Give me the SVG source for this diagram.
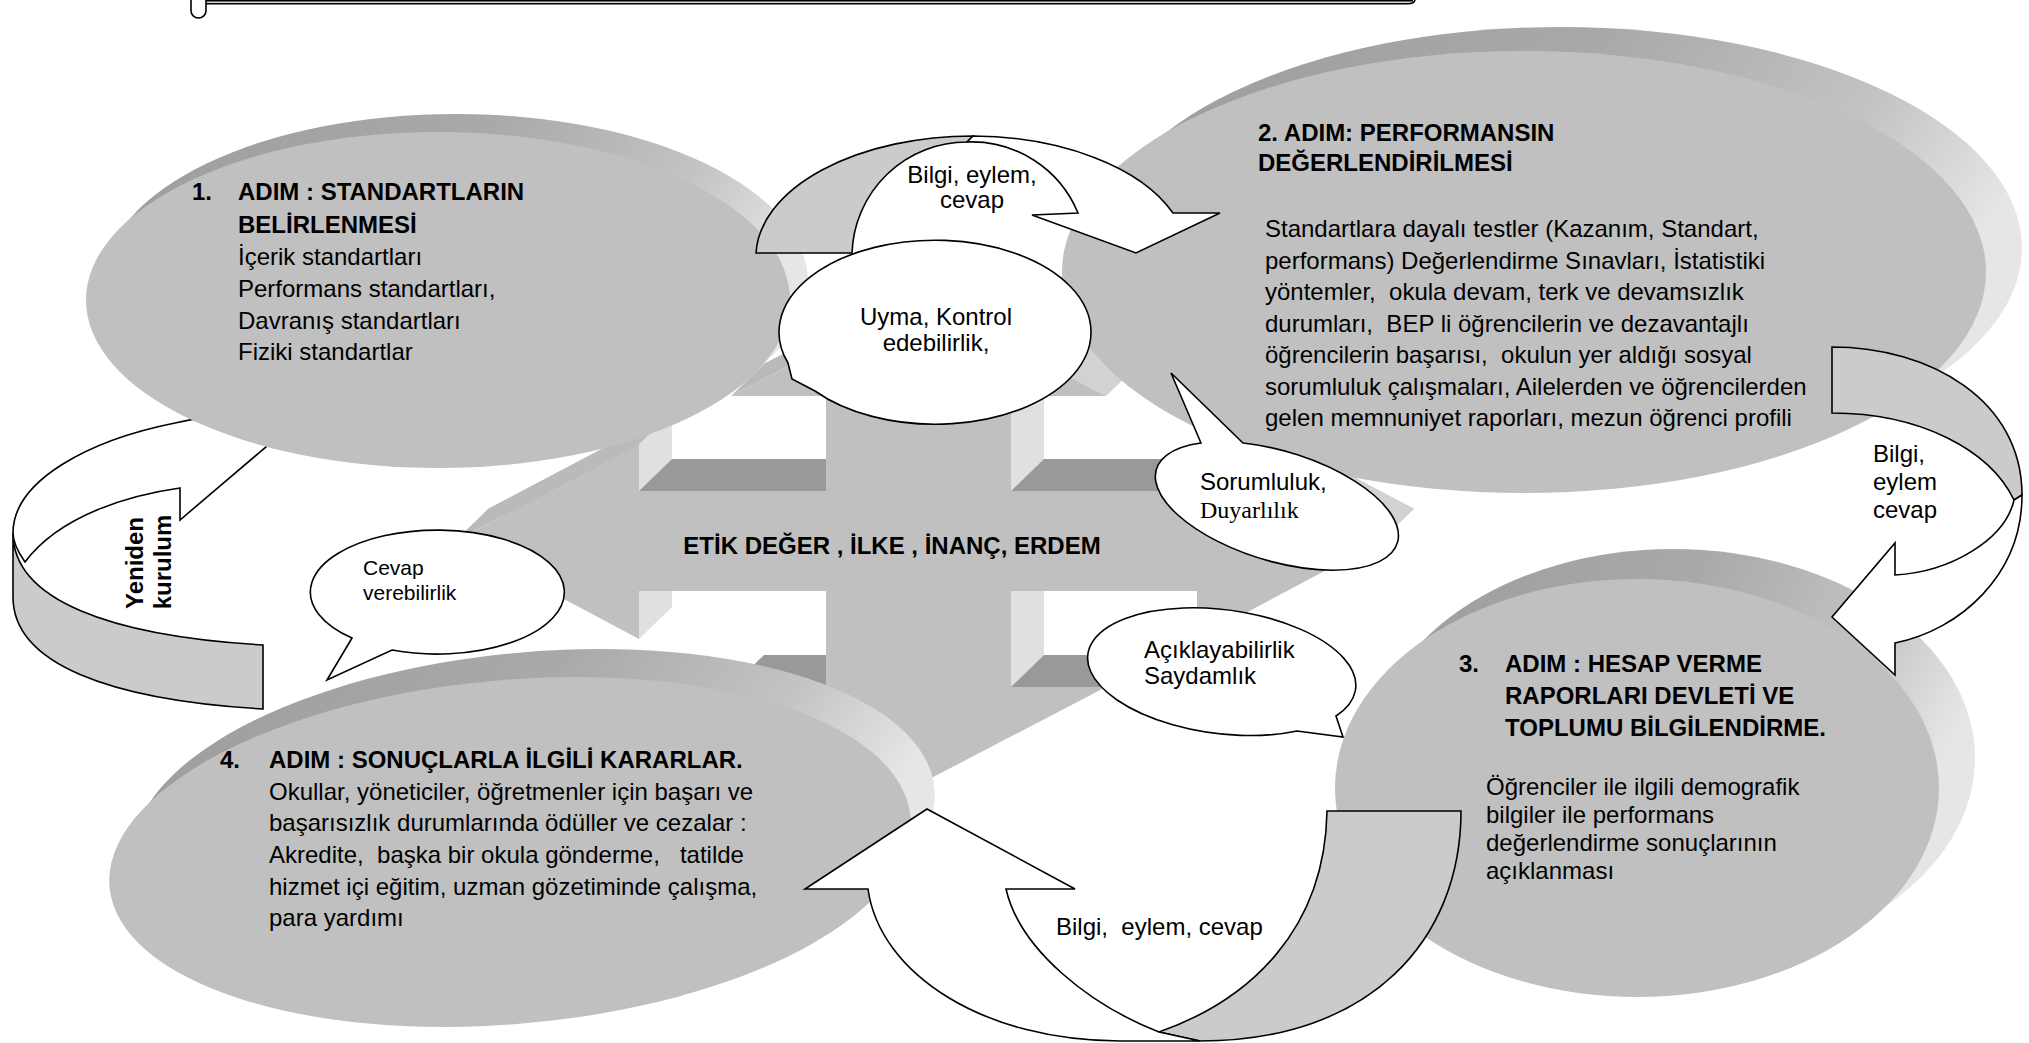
<svg xmlns="http://www.w3.org/2000/svg" width="2029" height="1043" viewBox="0 0 2029 1043">
  <defs>
    <linearGradient id="rimShade" x1="0" y1="0" x2="1" y2="0.35">
      <stop offset="0" stop-color="#9c9c9c"/>
      <stop offset="0.5" stop-color="#a9a9a9"/>
      <stop offset="0.8" stop-color="#c3c3c3"/>
      <stop offset="1" stop-color="#e6e6e6"/>
    </linearGradient>
    <style>
      .face { fill: #c0c0c0; }
      .rim { fill: url(#rimShade); }
      .ln { stroke: #000; stroke-width: 1.6; stroke-linejoin: miter; }
      .bub { fill: #fff; stroke: #000; stroke-width: 1.6; }
      .side { fill: #cbcbcb; }
      .top { fill: #fff; }
      text { font-family: "Liberation Sans", Arial, sans-serif; font-size: 24px; fill: #000; white-space: pre; }
      .b { font-weight: bold; }
      .serif { font-family: "Liberation Serif", "Times New Roman", serif; }
      .mid { text-anchor: middle; }
    </style>
  </defs>

  <rect width="2029" height="1043" fill="#fff"/>

  <!-- scroll banner running off the top edge -->
  <g id="banner">
    <rect x="205" y="0" width="1208" height="3.6" fill="#d9d9d9"/>
    <path class="ln" d="M205,0.8 H1413" fill="none"/>
    <path class="ln" d="M205,3.8 H1408 Q1414,3.8 1415,0" fill="none"/>
    <path class="ln" d="M191,0 V11 A7.5,7 0 0 0 206,11 V0" fill="#fff"/>
  </g>

  <!-- four-way extruded arrow carrying the core values -->
  <g id="ethics-cross">
    <polygon transform="translate(33,-32)" fill="#a4a4a4" points="918,298 1106,396 1011,396 1011,491 1197,491 1197,444 1381,541 1197,639 1197,591 1011,591 1011,687 1106,687 918,785 731,687 826,687 826,591 639,591 639,639 455,541 639,444 639,491 826,491 826,396 731,396"/>
    <polygon fill="#bababa" points="731,396 918,298 951,266 764,364"/>
    <polygon fill="#bababa" points="455,541 639,444 672,412 488,509"/>
    <polygon fill="#999" points="639,491 826,491 859,459 672,459"/>
    <polygon fill="#999" points="1011,491 1197,491 1230,459 1044,459"/>
    <polygon fill="#999" points="731,687 826,687 859,655 764,655"/>
    <polygon fill="#999" points="1011,687 1106,687 1139,655 1044,655"/>
    <polygon fill="#e0e0e0" points="1011,396 1011,491 1044,459 1044,364"/>
    <polygon fill="#e0e0e0" points="1011,591 1011,687 1044,655 1044,559"/>
    <polygon fill="#e0e0e0" points="639,444 639,491 672,459 672,412"/>
    <polygon fill="#e0e0e0" points="639,591 639,639 672,607 672,559"/>
    <polygon fill="#d2d2d2" points="918,298 1106,396 1139,364 951,266"/>
    <polygon fill="#d2d2d2" points="1197,444 1381,541 1414,509 1230,412"/>
    <polygon fill="#c0c0c0" points="918,298 1106,396 1011,396 1011,491 1197,491 1197,444 1381,541 1197,639 1197,591 1011,591 1011,687 1106,687 918,785 731,687 826,687 826,591 639,591 639,639 455,541 639,444 639,491 826,491 826,396 731,396"/>
    <text class="b mid" x="892" y="554">ETİK DEĞER , İLKE , İNANÇ, ERDEM</text>
  </g>

  <!-- ring arrow that runs under the step discs -->
  <g id="connectors-under">
    <g id="arrow-rebuild">
      <path class="side ln" d="M13,533 C13,600 110,636 263,645 L263,709 C110,700 13,664 13,597 Z"/>
      <path class="top ln" d="M13,533 C13,480 90,440 175,423 C215,414 250,412 280,410 L300,418 L180,520 L180,488 C130,495 60,515 25,562 C18,552 13,543 13,533 Z"/>
      <text class="b mid" transform="translate(143,563) rotate(-90)">Yeniden</text>
      <text class="b mid" transform="translate(171,562) rotate(-90)">kurulum</text>
    </g>
  </g>

  <g id="step1">
    <ellipse class="rim" cx="456" cy="282" rx="352" ry="168"/>
    <ellipse class="face" cx="438" cy="300" rx="352" ry="168"/>
    <text class="b" x="192" y="200">1.</text>
    <text class="b" x="238" y="200">ADIM : STANDARTLARIN</text>
    <text class="b" x="238" y="233">BELİRLENMESİ</text>
    <text x="238" y="265">İçerik standartları</text>
    <text x="238" y="297">Performans standartları,</text>
    <text x="238" y="329">Davranış standartları</text>
    <text x="238" y="360">Fiziki standartlar</text>
  </g>

  <g id="step2">
    <ellipse class="rim" cx="1560" cy="248" rx="462" ry="221"/>
    <ellipse class="face" cx="1524" cy="272" rx="462" ry="221"/>
    <text class="b" x="1258" y="141">2. ADIM: PERFORMANSIN</text>
    <text class="b" x="1258" y="171">DEĞERLENDİRİLMESİ</text>
    <text x="1265" y="237">Standartlara dayalı testler (Kazanım, Standart,</text>
    <text x="1265" y="269">performans) Değerlendirme Sınavları, İstatistiki</text>
    <text x="1265" y="300">yöntemler,  okula devam, terk ve devamsızlık</text>
    <text x="1265" y="332">durumları,  BEP li öğrencilerin ve dezavantajlı</text>
    <text x="1265" y="363">öğrencilerin başarısı,  okulun yer aldığı sosyal</text>
    <text x="1265" y="395">sorumluluk çalışmaları, Ailelerden ve öğrencilerden</text>
    <text x="1265" y="426">gelen memnuniyet raporları, mezun öğrenci profili</text>
  </g>

  <g id="step3">
    <ellipse class="rim" cx="1673" cy="758" rx="302" ry="209"/>
    <ellipse class="face" cx="1637" cy="788" rx="302" ry="209"/>
    <text class="b" x="1459" y="672">3.</text>
    <text class="b" x="1505" y="672">ADIM : HESAP VERME</text>
    <text class="b" x="1505" y="704">RAPORLARI DEVLETİ VE</text>
    <text class="b" x="1505" y="736">TOPLUMU BİLGİLENDİRME.</text>
    <text x="1486" y="795">Öğrenciler ile ilgili demografik</text>
    <text x="1486" y="823">bilgiler ile performans</text>
    <text x="1486" y="851">değerlendirme sonuçlarının</text>
    <text x="1486" y="879">açıklanması</text>
  </g>

  <g id="step4">
    <ellipse class="rim" cx="534" cy="824" rx="402" ry="172" transform="rotate(-5 534 824)"/>
    <ellipse class="face" cx="510" cy="852" rx="402" ry="172" transform="rotate(-5 510 852)"/>
    <text class="b" x="220" y="768">4.</text>
    <text class="b" x="269" y="768">ADIM : SONUÇLARLA İLGİLİ KARARLAR.</text>
    <text x="269" y="800">Okullar, yöneticiler, öğretmenler için başarı ve</text>
    <text x="269" y="831">başarısızlık durumlarında ödüller ve cezalar :</text>
    <text x="269" y="863">Akredite,  başka bir okula gönderme,   tatilde</text>
    <text x="269" y="895">hizmet içi eğitim, uzman gözetiminde çalışma,</text>
    <text x="269" y="926">para yardımı</text>
  </g>

  <!-- cycle arrows between the steps -->
  <g id="connectors">
    <g id="arrow-1-2">
      <path class="side ln" d="M756,253 A217,121 0 0 1 973,136 L967,142 A115,115 0 0 0 852,253 Z"/>
      <path class="top ln" d="M973,136 A217,121 0 0 1 1173,213 L1220,213 L1136,253 L1032,215 L1078,213 A115,115 0 0 0 967,142 Z"/>
      <text class="mid" x="972" y="183">Bilgi, eylem,</text>
      <text class="mid" x="972" y="208">cevap</text>
    </g>
    <g id="arrow-2-3">
      <path class="side ln" d="M1832,347 C1930,347 2022,400 2022,495 L2014,500 C1990,450 1920,413 1832,413 Z"/>
      <path class="top ln" d="M2022,495 C2022,575 1960,630 1895,643 L1895,675 L1832,617 L1895,543 L1895,575 C1950,572 2005,540 2014,500 Z"/>
      <text x="1873" y="462">Bilgi,</text>
      <text x="1873" y="490">eylem</text>
      <text x="1873" y="518">cevap</text>
    </g>
    <g id="arrow-3-4">
      <path class="side ln" d="M1327,811 L1461,811 C1461,940 1370,1041 1200,1041 L1159,1032 C1250,1000 1325,930 1327,811 Z"/>
      <path class="top ln" d="M868,889 C880,975 985,1041 1120,1041 L1200,1041 L1159,1032 C1090,1005 1020,950 1006,889 L1075,889 L927,809 L805,889 Z"/>
      <text x="1056" y="935">Bilgi,  eylem, cevap</text>
    </g>
  </g>

  <!-- callouts naming the accountability qualities -->
  <g id="bubble-control">
    <path class="bub" d="M788,363 A156,92 0 1 1 815,391 L792,379 Z"/>
    <text class="mid" x="936" y="325">Uyma, Kontrol</text>
    <text class="mid" x="936" y="351">edebilirlik,</text>
  </g>
  <g id="bubble-responsibility">
    <path class="bub" d="M1243,443 A126,55 17 1 1 1201,443 L1171,373 Z"/>
    <text x="1200" y="490">Sorumluluk,</text>
    <text class="serif" x="1200" y="518">Duyarlılık</text>
  </g>
  <g id="bubble-transparency">
    <path class="bub" d="M1336,716 A135,62 7.4 1 0 1297,731 L1343,737 Z"/>
    <text x="1144" y="658">Açıklayabilirlik</text>
    <text x="1144" y="684">Saydamlık</text>
  </g>
  <g id="bubble-answerability">
    <path class="bub" d="M392,650 A127,62 0 1 0 352,638 L327,680 Z"/>
    <text x="363" y="575" style="font-size:21px">Cevap</text>
    <text x="363" y="600" style="font-size:21px">verebilirlik</text>
  </g>
</svg>
